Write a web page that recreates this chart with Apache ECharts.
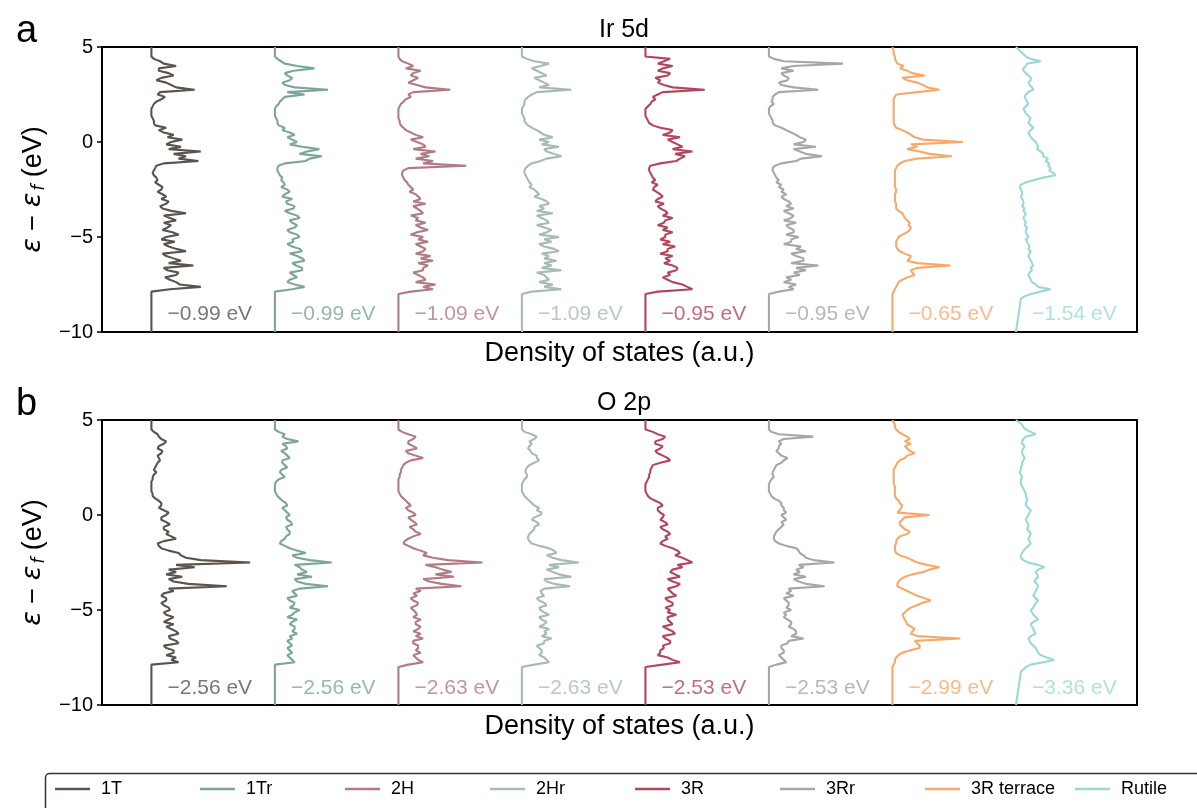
<!DOCTYPE html>
<html>
<head>
<meta charset="utf-8">
<script src="https://cdn.jsdelivr.net/npm/echarts@6/dist/echarts.min.js"></script>
<style>html,body{margin:0;padding:0;background:#fff}#c{width:1197px;height:808px}</style>
</head>
<body>
<div id="c"></div>
<script>
// Energy grid (eV), top to bottom
const energies = [4.75,4.625,4.5,4.375,4.25,4.125,4,3.875,
  3.75,3.625,3.5,3.375,3.25,3.125,3,2.875,
  2.75,2.625,2.5,2.375,2.25,2.125,2,1.875,
  1.75,1.625,1.5,1.375,1.25,1.125,1,0.875,
  0.75,0.625,0.5,0.375,0.25,0.125,0,-0.125,
  -0.25,-0.375,-0.5,-0.625,-0.75,-0.875,-1,-1.125,
  -1.25,-1.375,-1.5,-1.625,-1.75,-1.875,-2,-2.125,
  -2.25,-2.375,-2.5,-2.625,-2.75,-2.875,-3,-3.125,
  -3.25,-3.375,-3.5,-3.625,-3.75,-3.875,-4,-4.125,
  -4.25,-4.375,-4.5,-4.625,-4.75,-4.875,-5,-5.125,
  -5.25,-5.375,-5.5,-5.625,-5.75,-5.875,-6,-6.125,
  -6.25,-6.375,-6.5,-6.625,-6.75,-6.875,-7,-7.125,
  -7.25,-7.375,-7.5,-7.625,-7.75,-7.875,-8,-8.125,
  -8.25];

const names = ['1T','1Tr','2H','2Hr','3R','3Rr','3R terrace','Rutile'];
const colors = ['#5b534d','#7ea59c','#b07c84','#a8bab8','#b1475e','#a6a6ab','#f6a96c','#9cd8d4'];

// Ir 5d DOS (a.u.)
const ir_1T = [0,0,0,2,7,10,20,6, 6,14,18,8,4,12,16,20, 35,7,5,11,8,4,2,1, 0,0,0,0,1,2,2,3,
  12,6,10,18,13,25,16,12, 24,14,40,18,28,22,38,10, 4,3,2,1,2,4,5,3, 6,9,8,5,9,12,8,14,
  12,7,9,16,28,10,15,20, 10,16,13,9,17,22,12,8, 19,10,14,20,28,9,12,18, 24,14,34,10,13,22,20,11,
  15,20,23,40,15,0,0,0, 0];
const ir_1Tr = [0,0,0,2,5,8,18,32, 15,8,10,14,12,6,8,16, 43,10,24,8,6,4,3,1, 0,0,0,0,1,2,2,3,
  8,6,12,16,10,14,18,12, 22,36,26,20,38,28,25,8, 3,2,2,3,4,6,5,7, 8,5,10,12,8,6,14,9,
  10,16,15,8,12,18,20,12, 14,18,16,10,12,18,20,14, 15,10,14,20,22,12,18,22, 24,14,17,22,22,12,15,18,
  12,10,16,24,14,0,0,0, 0];
const ir_2H = [0,0,0,1,3,8,12,6, 18,12,10,16,12,8,15,22, 42,12,8,10,6,4,2,1, 0,0,0,0,0,1,1,2,
  4,6,10,14,20,10,15,20, 22,12,30,18,25,14,28,20, 55,8,4,3,3,4,5,7, 8,10,12,9,14,16,18,12,
  22,12,15,18,20,10,16,14, 22,14,18,24,15,10,20,16, 24,14,18,22,20,14,26,18, 28,16,24,20,20,12,16,20,
  22,14,30,20,28,10,0,0, 0];
const ir_2Hr = [0,0,0,4,10,22,15,8, 12,16,20,10,14,18,22,14, 40,12,8,5,3,2,2,1, 0,0,0,1,2,2,3,5,
  8,12,15,18,25,14,22,16, 30,18,20,26,32,20,15,8, 5,3,2,2,3,4,5,6, 8,6,10,12,14,10,16,20,
  22,14,18,12,25,12,16,20, 22,12,18,24,20,14,30,18, 24,14,18,26,30,16,22,18, 28,18,24,16,32,12,18,20,
  22,14,25,18,32,8,0,0, 0];
const ir_3R = [0,0,0,20,15,10,22,14, 10,20,18,8,12,10,15,22, 48,14,10,6,8,5,4,2, 0,0,0,0,1,2,3,6,
  12,22,20,14,28,18,22,26, 30,22,38,24,32,28,25,12, 4,3,3,4,5,6,8,5, 10,7,6,9,12,14,10,8,
  15,10,12,16,18,14,22,16, 15,10,18,14,22,16,16,12, 20,14,24,18,18,12,22,16, 20,15,22,26,25,18,20,14,
  18,22,30,34,38,10,0,0, 0];
const ir_3Rr = [0,0,0,4,12,60,20,10, 20,10,12,16,15,8,10,20, 40,8,5,3,3,2,4,1, 0,0,0,1,2,3,3,5,
  10,14,18,22,25,30,28,20, 38,20,25,30,43,26,22,10, 5,3,3,4,5,6,8,6, 10,8,12,10,14,10,12,16,
  18,14,20,12,16,20,18,12, 22,14,16,20,20,14,24,18, 18,12,26,22,30,18,22,28, 28,18,40,22,30,20,25,14,
  18,12,22,16,20,8,0,0, 0];
const ir_3Rt = [1,1,2,2,3,4,9,6, 12,16,26,8,12,20,25,28, 38,20,3,2,1,1,1,1, 1,1,1,1,1,1,1,2,
  3,8,12,15,18,25,57,15, 20,12,22,30,48,20,10,6, 4,3,2,2,2,2,2,2, 2,2,3,3,2,2,2,2,
  3,3,3,5,8,9,10,12, 14,13,15,14,12,8,5,4, 3,3,3,4,6,10,15,14, 12,20,47,20,15,16,18,12,
  8,5,4,3,2,1,0,0, 0];
const ir_Rut = [4,6,8,12,20,9,8,6, 6,8,10,12,12,10,11,13, 14,10,8,7,8,9,10,8, 6,7,8,10,12,11,10,12,
  14,12,10,11,12,14,16,17, 18,17,20,22,22,26,24,27, 26,28,27,30,32,22,15,8, 4,3,4,5,5,4,5,6,
  6,5,7,6,8,7,6,7, 8,7,9,8,8,9,10,8, 9,10,11,10,12,11,10,11, 12,13,14,12,13,11,10,11,
  12,13,16,18,28,20,12,7, 4];

// O 2p DOS (a.u.)
const o_1T = [0,0,0,2,5,6,8,12, 10,6,5,9,8,5,6,7, 5,4,3,2,4,2,1,1, 0,0,0,0,0,1,1,3,
  6,8,8,6,10,14,12,8, 8,12,15,10,10,14,12,16, 20,10,5,6,8,14,22,24, 28,40,80,20,35,14,20,12,
  25,14,18,30,61,14,18,10, 8,12,12,8,10,14,15,10, 12,18,14,10,18,12,16,20, 22,14,15,20,22,10,12,18,
  18,12,20,16,22,0,0,0, 0];
const o_1Tr = [0,0,0,3,8,6,10,19, 6,9,10,5,8,10,12,6, 6,8,10,5,4,6,8,3, 1,0,0,0,0,1,2,4,
  6,9,10,6,8,10,12,9, 10,13,14,9,10,12,12,9, 8,5,4,8,12,18,25,14, 18,28,46,16,20,22,26,18,
  30,16,18,25,43,20,14,16, 18,10,12,16,15,12,20,16, 14,10,18,14,12,16,16,14, 18,12,14,10,12,14,10,12,
  14,10,12,14,16,0,0,0, 0];
const o_2H = [0,0,0,3,8,14,12,8, 8,12,15,6,8,14,20,10, 6,4,3,2,2,1,1,0, 0,0,0,0,0,1,2,4,
  6,8,10,6,8,12,14,8, 10,13,15,9,12,14,18,12, 8,5,4,8,12,18,23,20, 28,40,68,22,30,36,43,30,
  45,20,25,35,51,14,18,12, 15,10,12,16,15,10,12,14, 15,12,18,14,14,18,16,12, 18,14,20,12,12,16,16,14,
  18,12,14,16,20,8,0,0, 0];
const o_2Hr = [0,0,0,2,8,12,10,6, 8,6,5,7,8,12,12,14, 10,6,4,3,3,4,4,2, 1,0,0,0,0,1,2,4,
  6,8,10,14,12,16,15,10, 8,12,14,10,10,8,6,5, 5,6,8,14,22,26,28,20, 25,32,46,22,30,20,25,30,
  40,18,20,26,39,18,15,16, 18,12,14,18,20,14,15,18, 22,14,16,20,18,14,22,18, 20,16,24,18,18,12,14,16,
  16,14,18,20,22,10,0,0, 0];
const o_3R = [0,0,0,6,10,16,14,8, 8,14,12,8,10,14,18,20, 12,6,5,4,4,3,3,2, 1,0,0,0,0,1,2,4,
  8,12,14,10,10,12,15,14, 12,16,18,12,14,18,20,16, 18,14,12,16,22,26,28,24, 30,34,38,26,30,22,20,24,
  28,18,22,28,25,18,20,22, 25,16,18,22,22,16,20,18, 25,18,18,20,22,14,18,22, 24,14,16,20,20,14,15,12,
  12,10,18,22,28,14,0,0, 0];
const o_3Rr = [0,0,0,2,8,36,12,8, 10,8,8,6,8,10,15,12, 10,6,5,4,3,3,4,2, 1,0,0,0,0,1,2,4,
  8,10,10,12,12,14,10,12, 14,10,12,10,8,6,5,4, 4,5,8,14,22,24,25,28, 30,36,53,24,28,22,25,20,
  30,20,24,30,45,16,18,14, 20,12,14,16,16,14,18,12, 14,12,15,18,18,16,20,22, 22,18,28,16,15,10,10,12,
  12,8,10,12,14,6,0,0, 0];
const o_3Rt = [2,2,3,5,8,12,14,10, 15,10,12,14,18,12,10,6, 4,3,2,1,1,1,1,1, 1,1,2,2,2,2,2,3,
  5,6,8,7,6,4,30,10, 8,6,6,8,10,14,12,6, 4,3,3,2,2,2,3,6, 12,16,20,28,38,30,25,16,
  10,7,5,4,4,8,12,16, 20,26,31,24,20,15,12,10, 8,9,10,11,12,15,18,16, 15,20,55,18,20,22,22,14,
  8,5,3,2,2,1,0,0, 0];
const o_Rut = [5,6,8,12,16,8,6,5, 5,7,6,5,5,6,7,6, 5,5,4,4,3,4,5,4, 4,4,5,6,7,8,8,9,
  9,8,8,10,12,11,10,9, 8,9,10,10,9,11,12,11, 10,11,12,10,8,6,5,4, 4,6,10,18,23,18,16,17,
  18,16,15,17,18,17,16,15, 14,16,18,16,15,14,12,13, 14,16,18,14,12,13,14,15, 16,12,10,11,12,14,16,17,
  18,20,25,31,22,12,8,6, 4];

// d/p-band centres (eV)
const irCenters = [-0.99,-0.99,-1.09,-1.09,-0.95,-0.95,-0.65,-1.54];
const oCenters  = [-2.56,-2.56,-2.63,-2.63,-2.53,-2.53,-2.99,-3.36];

const panels = [
  {title:'Ir 5d', letter:'a', sets:[ir_1T,ir_1Tr,ir_2H,ir_2Hr,ir_3R,ir_3Rr,ir_3Rt,ir_Rut], centers: irCenters, top:47, labelE:-9.05},
  {title:'O 2p',  letter:'b', sets:[o_1T,o_1Tr,o_2H,o_2Hr,o_3R,o_3Rr,o_3Rt,o_Rut], centers: oCenters, top:420, labelE:-9.1}
];

const FONT = 'Liberation Sans, Arial, sans-serif';
const SPACING = 100, BASE0 = 40;
const grids = [], xAxes = [], yAxes = [], series = [], titles = [];

panels.forEach((p, pi) => {
  grids.push({left:102, top:p.top, width:1035, height:285, show:true, borderColor:'#000', borderWidth:2, backgroundColor:'transparent'});
  xAxes.push({type:'value', gridIndex:pi, min:0, max:838, axisLine:{show:false}, axisTick:{show:false}, axisLabel:{show:false}, splitLine:{show:false},
    name:'Density of states (a.u.)', nameLocation:'middle', nameGap:8,
    nameTextStyle:{fontSize:27, fontFamily:FONT, color:'#000', verticalAlign:'top'}});
  yAxes.push({type:'value', gridIndex:pi, min:-10, max:5, interval:5,
    axisLine:{show:false}, axisTick:{show:true, length:5, lineStyle:{color:'#000', width:1.5}},
    splitLine:{show:false},
    axisLabel:{fontSize:20, fontFamily:FONT, color:'#000', margin:9, formatter: v => String(v).replace('-', '\u2212')},
    name:'{e|\u03b5} \u2212 {e|\u03b5}{s|f} (eV)', nameLocation:'middle', nameGap:52, nameRotate:90,
    nameTextStyle:{fontSize:27, fontFamily:FONT, color:'#000', lineHeight:30,
      rich:{ e:{fontSize:27, fontStyle:'italic', fontFamily:'DejaVu Sans', lineHeight:30},
             s:{fontSize:17, fontStyle:'italic', fontFamily:'DejaVu Sans', verticalAlign:'bottom', lineHeight:30, padding:[0,0,0,2]} } }});
  p.sets.forEach((vals, i) => {
    const off = BASE0 + SPACING * i;
    const data = [[off, 5]];
    vals.forEach((v, k) => data.push([off + v, energies[k]]));
    data.push([off, -10]);
    series.push({type:'line', name:names[i], xAxisIndex:pi, yAxisIndex:pi, data, showSymbol:false, symbol:'none',
      lineStyle:{color:colors[i], width:2.1}, itemStyle:{color:colors[i]}, color:colors[i], silent:true, clip:true});
  });
  series.push({type:'scatter', name:'centers'+pi, xAxisIndex:pi, yAxisIndex:pi, symbolSize:0, silent:true,
    data: p.centers.map((c, i) => ({value:[BASE0 + SPACING*i + 13, p.labelE], name:'\u2212' + Math.abs(c).toFixed(2) + ' eV',
      label:{color:colors[i]}})),
    label:{show:true, position:'right', distance:0, formatter: d => d.name, fontSize:21, fontFamily:FONT}});
  titles.push({text:p.title, left:619, top:p.top - 34, textAlign:'center', textStyle:{fontSize:25, fontWeight:'normal', fontFamily:FONT, color:'#000'}});
  titles.push({text:p.letter, left:11, top:p.top - 39, textStyle:{fontSize:38, fontWeight:'normal', fontFamily:FONT, color:'#000'}});
});

const legendLefts = [55, 200, 345, 490, 635, 780, 925, 1075];
const legends = names.map((n, i) => ({data:[n], left:legendLefts[i], top:780, icon:'rect', itemWidth:35, itemHeight:2.5, padding:0,
  selectedMode:false, textStyle:{fontSize:18, fontFamily:FONT, color:'#000', padding:[0,0,0,6]}}));

const chart = echarts.init(document.getElementById('c'), null, {renderer:'canvas'});
chart.setOption({
  animation:false,
  title: titles,
  grid: grids, xAxis: xAxes, yAxis: yAxes, series,
  legend: legends,
  graphic:[{type:'rect', left:43, top:771, shape:{width:1175, height:60, r:4}, style:{fill:'none', stroke:'#333', lineWidth:1.5}}]
});
</script>
</body>
</html>
